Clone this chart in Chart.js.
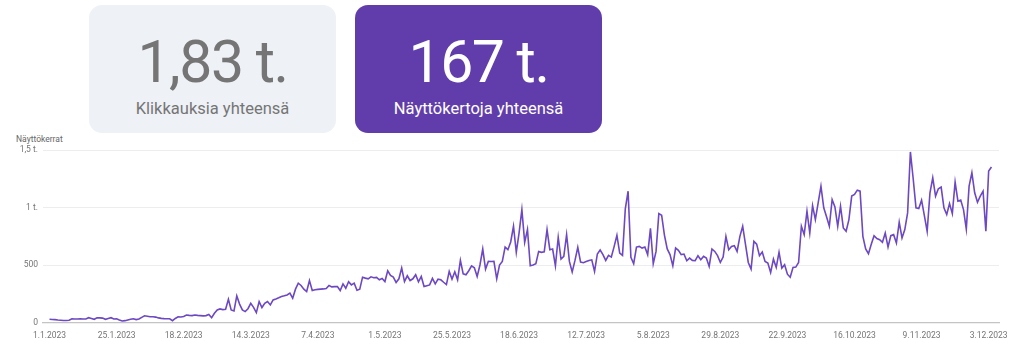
<!DOCTYPE html>
<html>
<head>
<meta charset="utf-8">
<script src="https://cdn.jsdelivr.net/npm/chart.js@4"></script>
<style>
  html, body { margin: 0; padding: 0; background: #ffffff; }
  body { width: 1024px; height: 361px; position: relative; overflow: hidden; font-family: Roboto, "Noto Sans", sans-serif; }
  .card { position: absolute; top: 5px; height: 128px; width: 247px; border-radius: 13px; text-align: center; }
  .card .big { position: absolute; left: 0; right: 0; top: 22px; font-size: 59px; font-weight: 400; line-height: 70px; letter-spacing: -1.5px; }
  .card .sub { position: absolute; left: 0; right: 0; top: 93px; font-size: 16.5px; line-height: 22px; }
  #c1 { left: 89px; background: #eef1f6; color: #757575; }
  #c2 { left: 355px; background: #613dab; color: #ffffff; }
  #ytitle { position: absolute; left: 16px; top: 134px; font-size: 8.5px; color: #666666; }
  #wrap { position: absolute; left: 0; top: 0; width: 1024px; height: 361px; }
</style>
</head>
<body>
<div id="c1" class="card"><div class="big">1,83 t.</div><div class="sub">Klikkauksia yhteensä</div></div>
<div id="c2" class="card"><div class="big">167 t.</div><div class="sub">Näyttökertoja yhteensä</div></div>
<div id="ytitle">Näyttökerrat</div>
<div id="wrap"><canvas id="chart"></canvas></div>
<script>
// Daily impressions (Näyttökerrat), 1.1.2023 onwards
const impressions = [
  28,26,25,22,20,18,17,20,33,30, 30,33,31,30,42,35,28,40,40,38,
  28,35,42,30,32,22,13,16,22,28, 33,25,30,45,58,55,50,50,47,40,
  36,34,33,32,16,35,50,48,52,65, 62,60,65,62,60,58,60,70,42,80,
  109,118,112,115,202,109,100,231,160,110, 95,120,167,132,86,182,130,167,182,153,
  196,205,215,226,232,240,255,211,290,342, 322,290,269,365,278,285,288,290,292,295,
  322,310,312,313,278,336,298,354,327,342, 281,290,394,386,380,397,389,392,371,383,
  356,450,409,394,348,380,473,356,406,365, 380,415,354,400,313,320,327,383,336,377,
  371,350,330,444,377,441,371,540,423,415, 450,493,476,400,500,639,464,531,530,531,
  380,500,531,656,633,700,837,610,780,982, 697,808,493,500,511,618,610,615,808,633,
  639,493,741,551,575,764,531,440,540,653, 525,520,530,540,545,444,596,630,590,540,
  584,569,660,758,604,584,988,1142,566,511, 656,662,647,656,590,819,511,618,947,933,
  760,640,590,493,647,627,590,595,537,560, 540,537,581,546,575,560,487,639,618,581,
  522,569,749,633,662,668,618,749,837,680, 522,464,706,682,581,613,531,517,435,551,
  479,610,473,502,420,394,479,482,522,837, 764,968,778,1017,895,1040,1186,997,920,837,
  1069,1005,837,1011,822,793,895,1099,1113,1151, 1142,749,640,598,680,755,730,720,697,778,
  656,755,764,691,872,735,808,953,1483,1250, 997,991,1064,930,793,1128,1258,1099,1163,1177,
  997,939,1034,947,1221,1055,1064,982,813,1186, 1302,1128,1046,1099,1142,793,1317,1352
];
// Category dates (d.m.yyyy) for each daily value
const startDate = new Date(2023, 0, 1);
const dates = impressions.map((_, i) => {
  const d = new Date(startDate.getFullYear(), startDate.getMonth(), startDate.getDate() + i);
  return d.getDate() + '.' + (d.getMonth() + 1) + '.' + d.getFullYear();
});
const xTickLabels = ['1.1.2023','25.1.2023','18.2.2023','14.3.2023','7.4.2023','1.5.2023','25.5.2023','18.6.2023','12.7.2023','5.8.2023','29.8.2023','22.9.2023','16.10.2023','9.11.2023','3.12.2023'];
const yTickValues = [0, 500, 1000, 1500];
const yTickLabels = ['0', '500', '1 t.', '1,5 t.'];

const xTickIdx = xTickLabels.map(l => dates.indexOf(l));
const points = impressions.map((v, i) => ({ x: i, y: v }));

new Chart(document.getElementById('chart'), {
  type: 'line',
  data: {
    datasets: [{
      label: 'Näyttökerrat',
      data: points,
      borderColor: '#6c48c2',
      borderWidth: 1.6,
      pointRadius: 0,
      tension: 0,
      fill: false
    }]
  },
  options: {
    responsive: true,
    maintainAspectRatio: false,
    animation: false,
    layout: { padding: { top: 150, right: 25, left: 0, bottom: 0 } },
    plugins: { legend: { display: false }, tooltip: { enabled: false } },
    scales: {
      x: {
        type: 'linear',
        min: -2.33,
        max: 339.7,
        afterBuildTicks: (s) => { s.ticks = xTickIdx.map(v => ({ value: v })); },
        afterFit: (s) => { s.height = 38.5; },
        ticks: {
          autoSkip: false,
          maxRotation: 0,
          padding: 8,
          color: '#757575',
          font: { family: 'Roboto', size: 8.5 },
          callback: (v) => xTickLabels[xTickIdx.indexOf(v)]
        },
        grid: { display: false, drawTicks: false },
        border: { display: true, color: '#c4c4c4', width: 1.2 }
      },
      y: {
        min: 0,
        max: 1500,
        afterBuildTicks: (s) => { s.ticks = yTickValues.map(v => ({ value: v })); },
        afterFit: (s) => { s.width = 43; },
        ticks: {
          padding: 5,
          color: '#757575',
          font: { family: 'Roboto', size: 8.5 },
          callback: (v) => yTickLabels[yTickValues.indexOf(v)]
        },
        grid: { color: '#ededed', drawTicks: false },
        border: { display: false }
      }
    }
  }
});
</script>
</body>
</html>
